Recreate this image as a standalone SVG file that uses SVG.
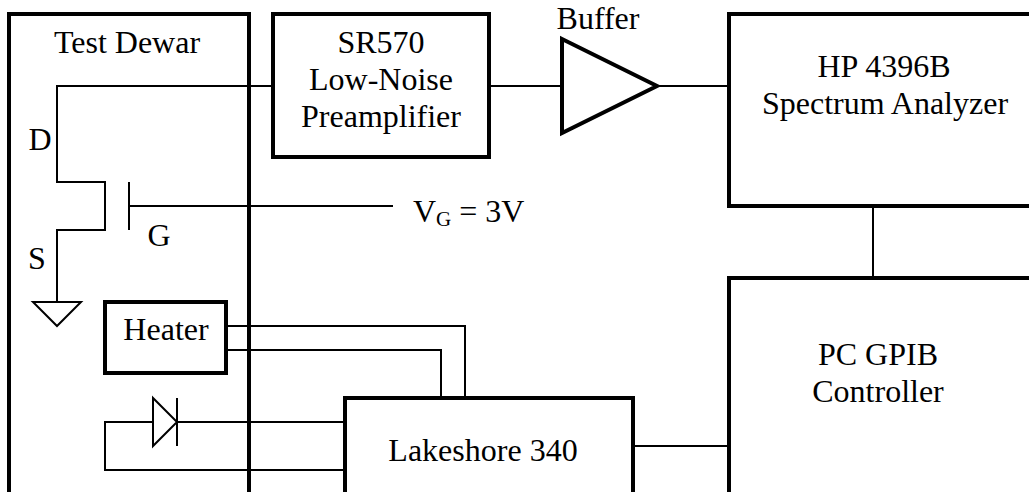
<svg xmlns="http://www.w3.org/2000/svg" width="1029" height="492" viewBox="0 0 1029 492">
<style>
text{font-family:"Liberation Serif","Times New Roman",serif;font-size:32px;fill:#000;text-anchor:middle}
.b{fill:none;stroke:#000;stroke-width:4}
.l{fill:none;stroke:#000;stroke-width:2}
</style>
<rect width="1029" height="492" fill="#fff"/>
<g id="connectors">
<path class="l" d="M273 86H57V182H105V230H57V302"/>
<path class="l" d="M129 206H393"/>
<path class="l" d="M129 182V230"/>
<path class="l" d="M489 86H562M657 86H729"/>
<path class="l" d="M873 206V277"/>
<path class="l" d="M226 326H465V398M226 350H441V398"/>
<path class="l" d="M633 446H729"/>
<path class="l" d="M345 422H177M345 470H105V422H153"/>
</g>
<g id="dewar"><path class="b" d="M9 492V14H249V492"/><text x="127" y="53">Test Dewar</text></g>
<g id="preamp"><rect class="b" x="273" y="14" width="216" height="143"/><text x="381" y="53">SR570</text><text x="381" y="90">Low-Noise</text><text x="381" y="127">Preamplifier</text></g>
<g id="buffer"><path class="b" d="M562 39L657 86L562 133Z"/><text x="598" y="29">Buffer</text></g>
<g id="analyzer"><path class="b" d="M1029 14H729V206H1029"/><text x="884" y="77">HP 4396B</text><text x="885" y="114">Spectrum Analyzer</text></g>
<g id="controller"><path class="b" d="M729 492V278H1029"/><text x="878" y="365">PC GPIB</text><text x="878" y="402">Controller</text></g>
<g id="lakeshore"><path class="b" d="M345 492V398H633V492"/><text x="483" y="461">Lakeshore 340</text></g>
<g id="heater"><rect class="b" x="105" y="302" width="121" height="71"/><text x="166" y="340">Heater</text></g>
<g id="diode"><path class="l" d="M153 398V446L177 422ZM177 398V446"/></g>
<g id="ground"><path class="l" d="M33 302H81L57 326Z"/></g>
<g id="labels"><text x="40" y="150">D</text><text x="37" y="269">S</text><text x="159" y="246">G</text>
<text x="413" y="222" style="text-anchor:start">V<tspan font-size="21" dy="4">G</tspan><tspan dy="-4"> = 3V</tspan></text></g>
</svg>
